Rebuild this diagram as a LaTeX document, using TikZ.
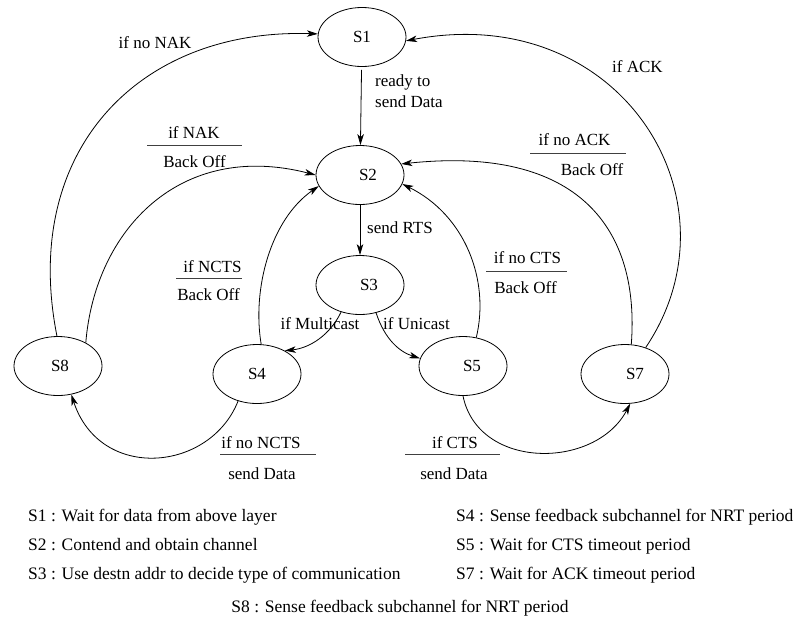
\documentclass[tikz,border=0pt]{standalone}
\usepackage{fontspec}
\setmainfont{Liberation Serif}
\usetikzlibrary{shapes.geometric,arrows.meta}
\begin{document}
\begin{tikzpicture}[x=1pt,y=-1pt,
  every node/.style={font=\fontsize{17}{20}\selectfont},
  state/.style={ellipse,draw,line width=0.8pt,minimum width=88pt,minimum height=59pt,inner sep=0pt},
  tr/.style={draw,line width=0.8pt,-{Stealth[length=11pt,width=6.5pt,inset=3pt]}},
  lbl/.style={anchor=base,inner sep=0pt},
  lblw/.style={anchor=base west,inner sep=0pt},
  key/.style={inner sep=0pt,font=\fontsize{17.5}{20}\selectfont},
  frac/.style={line width=1pt,draw=black!75}]
\useasboundingbox (0,0) rectangle (799,622);

% states
\node[state] (S1) at (362,37) {S1};
\node[state] (S2) at (360,175) {\hspace{16pt}S2};
\node[state] (S3) at (360,285) {\hspace{18pt}S3};
\node[state] (S4) at (257,374) {S4};
\node[state] (S5) at (463,366) {\hspace{18pt}S5};
\node[state] (S7) at (625,374) {\hspace{20pt}S7};
\node[state] (S8) at (58,366) {\hspace{4pt}S8};

% transitions
\draw[tr,shorten <=3pt] (S1) -- (S2);
\draw[tr] (S2) -- (S3);
\draw[tr] (S3.235) .. controls (330,335) and (310,348) .. (S4.40);
\draw[tr] (S3.300) .. controls (385,340) and (400,352) .. (S5.170);
\draw[tr] (S4.82) .. controls (252,290) and (270,220) .. (S2.195);
\draw[tr] (S5.65) .. controls (490,280) and (465,215) .. (S2.-12);
\draw[tr] (S7.78) .. controls (640,230) and (580,145) .. (S2.15);
\draw[tr] (S7.52) .. controls (745,200) and (620,0) .. (S1.-5);
\draw[tr] (S8.40) .. controls (95,230) and (180,140) .. (S2.180);
\draw[tr] (S8.92) .. controls (20,150) and (140,28) .. (S1.176);
\draw[tr] (S4.235) .. controls (210,472) and (100,482) .. (S8.-65);
\draw[tr] (S5.270) .. controls (478,470) and (595,470) .. (S7.-80);

% plain transition labels
\node[lbl] (tNoNak) at (155,48) {if no NAK};
\node[lblw] (tReady) at (375,86) {ready to};
\node[lblw] (tReadyB) at (375,107) {send Data};
\node[lblw] (tAck) at (612,72) {if ACK};
\node[lblw] (tRts) at (367,233) {send RTS};
\node[lbl] (tMulti) at (320,329) {if Multicast};
\node[lblw] (tUni) at (383,329) {if Unicast};

% condition / action labels
\draw[frac] (147,145) -- (242,145);
\node[lbl] (tNak) at (194,138) {if NAK};
\node[lbl] (tNakB) at (194.5,167) {Back Off};

\draw[frac] (530,153) -- (626,153);
\node[lbl] (tNoAck) at (574.5,145) {if no ACK};
\node[lbl] (tNoAckB) at (592,175) {Back Off};

\draw[frac] (176,278) -- (242,278);
\node[lbl] (tNcts) at (212.5,272) {if NCTS};
\node[lbl] (tNctsB) at (208.5,300) {Back Off};

\draw[frac] (486,271) -- (567,271);
\node[lbl] (tNoCts) at (527.5,263) {if no CTS};
\node[lbl] (tNoCtsB) at (525.5,293) {Back Off};

\draw[frac] (220,454) -- (316,454);
\node[lbl] (tNoNcts) at (261,448) {if no NCTS};
\node[lbl] (tNoNctsB) at (262,479) {send Data};

\draw[frac] (405,454) -- (500,454);
\node[lbl] (tCts) at (455,448) {if CTS};
\node[lbl] (tCtsB) at (454,479) {send Data};

% legend
\node[key,anchor=base west] (k1) at (28,521) {S1 : Wait for data from above layer};
\node[key,anchor=base west] (k2) at (28,550) {S2 : Contend and obtain channel};
\node[key,anchor=base west] (k3) at (28,579) {S3 : Use destn addr to decide type of communication};
\node[key,anchor=base west] (k4) at (456,521) {S4 : Sense feedback subchannel for NRT period};
\node[key,anchor=base west] (k5) at (456,550) {S5 : Wait for CTS timeout period};
\node[key,anchor=base west] (k7) at (456,579) {S7 : Wait for ACK timeout period};
\node[key,anchor=base] (k8) at (400,612) {S8 : Sense feedback subchannel for NRT period};
\end{tikzpicture}
\end{document}
